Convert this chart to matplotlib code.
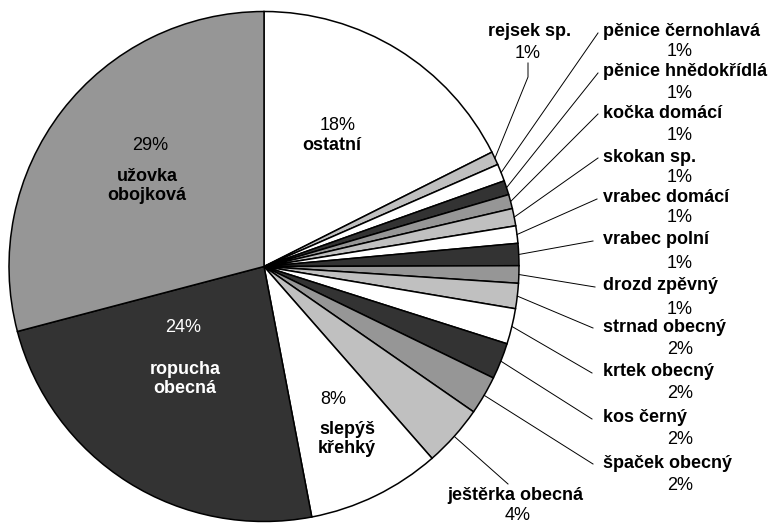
import numpy as np
import matplotlib
matplotlib.use('Agg')
import matplotlib.pyplot as plt

plt.rcParams['font.family'] = ['Liberation Sans', 'DejaVu Sans']

# podíly druhů (%), po směru hodinových ručiček od vrcholu
names = ['ostatní', 'rejsek sp.', 'pěnice černohlavá', 'pěnice hnědokřídlá',
         'kočka domácí', 'skokan sp.', 'vrabec domácí', 'vrabec polní',
         'drozd zpěvný', 'strnad obecný', 'krtek obecný', 'kos černý',
         'špaček obecný', 'ještěrka obecná', 'slepýš křehký',
         'ropucha obecná', 'užovka obojková']
shares = [17.6, 0.85, 1.1, 0.9, 0.9, 1.1, 1.1, 1.4, 1.1, 1.6, 2.25, 2.3,
          2.45, 3.9, 8.45, 23.9, 29.1]
colors = ['#ffffff', '#c0c0c0', '#ffffff', '#333333', '#969696', '#c0c0c0',
          '#ffffff', '#333333', '#969696', '#c0c0c0', '#ffffff', '#333333',
          '#969696', '#c0c0c0', '#ffffff', '#333333', '#969696']

# pixel layout of the reference
CX, CY, R = 264, 266.5, 255
W, H = 776, 526


def P(x, y):
    return ((x - CX) / R, (CY - y) / R)


fig = plt.figure(figsize=(W / 100, H / 100), dpi=100)
ax = fig.add_axes([0, 0, 1, 1])
wedges, _ = ax.pie(shares, colors=colors, startangle=90, counterclock=False,
                   radius=1, wedgeprops=dict(edgecolor='black', linewidth=1.1))
ax.set_aspect('auto')
ax.set_xlim(-CX / R, (W - CX) / R)
ax.set_ylim((CY - H) / R, CY / R)
ax.axis('off')

pct = ['%.0f%%' % s for s in shares]
fs = 13

# labels inside the big slices: (index, pct pos, name pos, name text, colour)
inside = [
    (0, (338, 125), (332, 146), 'ostatní', 'black'),
    (16, (150, 145), (147, 186), 'užovka\nobojková', 'black'),
    (15, (183, 328), (185, 379), 'ropucha\nobecná', 'white'),
    (14, (333, 400), (347, 439), 'slepýš\nkřehký', 'black'),
]
for i, pp, npos, txt, c in inside:
    ax.text(*P(*pp), pct[i], ha='center', va='center', fontsize=fs, color=c)
    ax.text(*P(*npos), txt, ha='center', va='center', fontsize=fs,
            fontweight='bold', color=c, linespacing=1.1)


def edge_point(w, r=1.0):
    a = np.deg2rad((w.theta1 + w.theta2) / 2)
    return r * np.cos(a), r * np.sin(a)


# rejsek sp.
ax.text(*P(530, 32), names[1], ha='center', va='center', fontsize=fs,
        fontweight='bold')
ax.text(*P(528, 53), pct[1], ha='center', va='center', fontsize=fs)
ex, ey = edge_point(wedges[1])
p1 = P(528, 77)
p2 = P(528, 63)
ax.plot([ex, p1[0], p2[0]], [ey, p1[1], p2[1]], color='black', lw=0.7)

# labels on the right: name y, percent y, leader end
right_y = [(32, 52), (72, 93), (113, 135), (157, 177), (198, 218),
           (240, 263), (286, 309), (327, 349), (372, 393), (418, 439),
           (463, 486)]
right_x = [598, 598, 598, 598, 597, 593, 595, 593, 592, 592, 593]
for k, (ny, py) in enumerate(right_y):
    i = k + 2
    ax.text(*P(603, ny), names[i], ha='left', va='center', fontsize=fs,
            fontweight='bold')
    ax.text(*P(680, py), pct[i], ha='center', va='center', fontsize=fs)
    ex, ey = edge_point(wedges[i])
    lx, ly = P(right_x[k], ny + 1)
    ax.plot([ex, lx], [ey, ly], color='black', lw=0.7)

# ještěrka obecná
ax.text(*P(515, 496), names[13], ha='center', va='center', fontsize=fs,
        fontweight='bold')
ax.text(*P(518, 516), pct[13], ha='center', va='center', fontsize=fs)
ex, ey = edge_point(wedges[13])
lx, ly = P(508, 484)
ax.plot([ex, lx], [ey, ly], color='black', lw=0.7)

fig.savefig('out.png', dpi=100)
